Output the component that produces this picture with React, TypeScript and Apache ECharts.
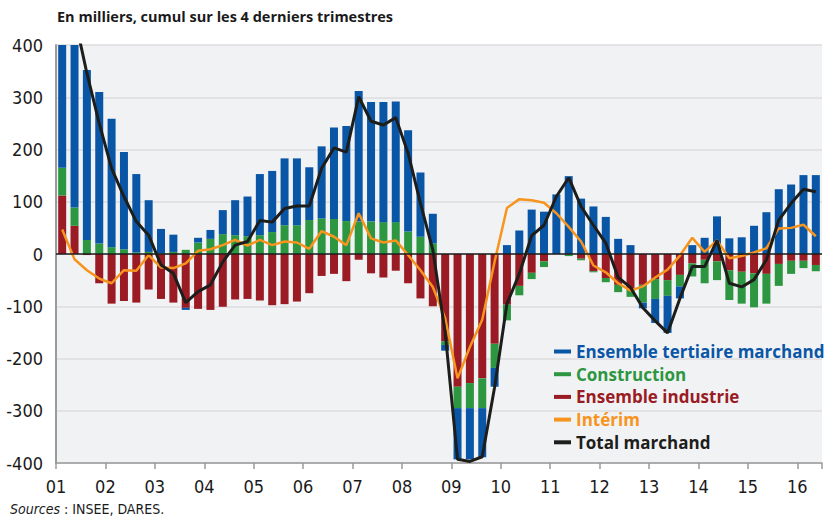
import React, { useEffect, useRef } from "react";
import * as echarts from "echarts";

// Quarters 2001T1 .. 2016T2
const firstYear = 2001;
const quarters: string[] = [];
for (let y = 2001; y <= 2016; y++) {
  for (let q = 1; q <= 4; q++) {
    if (quarters.length < 62) quarters.push(`${y}T${q}`);
  }
}

const yearLabels = ["01", "02", "03", "04", "05", "06", "07", "08", "09", "10", "11", "12", "13", "14", "15", "16"];

const tertiaire = [
  320, 365, 325, 290, 246, 186, 150, 99, 47, 33,
  -4, 9, 17, 46, 67, 76, 117, 117, 128, 128,
  101, 138, 175, 182, 250, 229, 230, 231, 194, 123,
  57, -11, -98, -98, -94, -36, 17, 45, 85, 81,
  114, 149, 106, 91, 71, 29, 17, -11, -46, -71,
  -23, 17, 31, 72, 30, 32, 54, 80, 124, 133,
  151, 151,
];
const construction = [
  53, 35, 27, 20, 13, 9, 3, 4, 1, 4,
  8, 22, 29, 38, 36, 34, 36, 42, 55, 55,
  65, 68, 67, 63, 62, 62, 61, 61, 43, 33,
  20, -7, -41, -48, -57, -46, -30, -18, -12, -11,
  0, -3, -3, -2, -8, -14, -14, -34, -38, -30,
  -22, -25, -45, -36, -57, -61, -65, -57, -42, -25,
  -14, -12,
];
const industrie = [
  112, 54, -2, -56, -95, -90, -93, -68, -86, -93,
  -103, -105, -107, -101, -87, -86, -89, -98, -96, -91,
  -75, -42, -38, -52, -11, -37, -45, -32, -56, -85,
  -100, -167, -254, -247, -238, -172, -97, -61, -36, -14,
  0, -1, -9, -33, -46, -59, -68, -59, -48, -50,
  -40, -18, -11, -14, -31, -34, -37, -38, -19, -13,
  -13, -21,
];
const interim = [
  47, -10, -31, -47, -56, -31, -32, -2, -26, -27,
  -18, 6, 9, 17, 27, 16, 27, 17, 24, 22,
  10, 44, 33, 17, 78, 30, 22, 26, -2, -31,
  -63, -123, -238, -178, -126, -15, 88, 105, 103, 98,
  78, 52, 24, -22, -35, -56, -70, -62, -45, -30,
  -3, 31, 4, 26, -8, -4, 3, 11, 49, 50,
  56, 34,
];
const total = [
  490, 455, 346, 250, 164, 110, 62, 36, -21, -37,
  -93, -72, -59, -15, 17, 24, 64, 61, 87, 92,
  92, 164, 203, 195, 301, 254, 247, 261, 193, 97,
  8, -150, -393, -397, -388, -255, -95, -38, 35, 55,
  110, 146, 91, 55, 21, -45, -64, -103, -128, -151,
  -85, -24, -24, 26, -56, -63, -49, -11, 65, 97,
  124, 119,
];

const C_BLUE = "#0a56a6";
const C_GREEN = "#2c9640";
const C_RED = "#9a1b24";
const C_ORANGE = "#f7941d";
const C_BLACK = "#1d1d1b";

const NAMES = {
  ter: "Ensemble tertiaire marchand",
  con: "Construction",
  ind: "Ensemble industrie",
  int: "Intérim",
  tot: "Total marchand",
};

const AXIS_FONT = "'Liberation Sans Narrow', 'DejaVu Sans Condensed', 'Roboto Condensed', 'Liberation Sans', sans-serif";
const BOLD_FONT = "'Open Sans', Lato, sans-serif";

export default function App() {
  const ref = useRef<HTMLDivElement>(null);
  useEffect(() => {
    if (!ref.current) return;
    const chart = echarts.init(ref.current, undefined, { renderer: "svg" });
    const barCommon = {
      type: "bar",
      stack: "emploi",
      barWidth: 8,
      xAxisIndex: 0,
    };
    chart.setOption({
      animation: false,
      backgroundColor: "#ffffff",
      title: {
        text: "En milliers, cumul sur les 4 derniers trimestres",
        left: 57,
        top: 9,
        padding: 0,
        textStyle: { fontFamily: BOLD_FONT, fontSize: 14.5, fontWeight: "bold", color: "#1a1a1a" },
      },
      grid: {
        left: 56,
        right: 0,
        top: 45,
        bottom: 56,
        show: true,
        backgroundColor: "#f1f2f4",
        borderWidth: 0,
      },
      legend: {
        orient: "vertical",
        left: 554,
        top: 343,
        icon: "rect",
        itemWidth: 17,
        itemHeight: 4,
        itemGap: 5.7,
        padding: 0,
        textStyle: { fontFamily: BOLD_FONT, fontSize: 17, fontWeight: "bold" },
        data: [
          { name: NAMES.ter, textStyle: { color: C_BLUE } },
          { name: NAMES.con, textStyle: { color: C_GREEN } },
          { name: NAMES.ind, textStyle: { color: C_RED } },
          { name: NAMES.int, textStyle: { color: C_ORANGE } },
          { name: NAMES.tot, textStyle: { color: C_BLACK } },
        ],
      },
      xAxis: [
        {
          type: "category",
          data: quarters,
          boundaryGap: true,
          position: "bottom",
          axisLine: { show: false },
          axisTick: { show: false },
          axisLabel: { show: false },
          splitLine: { show: false },
        },
        {
          type: "value",
          min: firstYear,
          max: firstYear + quarters.length / 4,
          interval: 1,
          position: "bottom",
          splitLine: { show: false },
          axisLine: { show: true, onZero: false, lineStyle: { color: "#9a9a9a", width: 1.5 } },
          axisTick: { show: true, length: 6, lineStyle: { color: "#9a9a9a", width: 1.5 } },
          axisLabel: {
            margin: 14,
            fontFamily: AXIS_FONT,
            fontSize: 18,
            color: "#1a1a1a",
            formatter: (v: number) => {
              if (Math.abs(v - Math.round(v)) > 1e-6) return "";
              const idx = Math.round(v) - firstYear;
              return yearLabels[idx] ?? "";
            },
          },
        },
      ],
      yAxis: {
        type: "value",
        min: -400,
        max: 400,
        interval: 100,
        axisLine: { show: true, lineStyle: { color: "#9a9a9a", width: 2 } },
        axisTick: { show: false },
        splitLine: { show: true, lineStyle: { color: "#dcdde0", width: 1.5 } },
        axisLabel: {
          margin: 13,
          fontFamily: AXIS_FONT,
          fontSize: 18,
          color: "#1a1a1a",
        },
      },
      graphic: [
        {
          type: "text",
          left: 10,
          top: 502,
          style: {
            text: "{i|Sources} : INSEE, DARES.",
            font: `14px ${AXIS_FONT}`,
            fill: "#1a1a1a",
            rich: {
              i: { fontStyle: "italic", fontFamily: AXIS_FONT, fontSize: 14, fill: "#1a1a1a" },
            },
          },
        },
      ],
      series: [
        {
          ...barCommon,
          name: NAMES.ind,
          data: industrie,
          itemStyle: { color: C_RED },
        },
        {
          ...barCommon,
          name: NAMES.con,
          data: construction,
          itemStyle: { color: C_GREEN },
        },
        {
          ...barCommon,
          name: NAMES.ter,
          data: tertiaire,
          itemStyle: { color: C_BLUE },
        },
        {
          type: "line",
          name: NAMES.int,
          xAxisIndex: 0,
          data: interim,
          symbol: "none",
          color: C_ORANGE,
          lineStyle: { color: C_ORANGE, width: 2.5 },
          itemStyle: { color: C_ORANGE },
          markLine: {
            silent: true,
            symbol: "none",
            label: { show: false },
            lineStyle: { color: C_BLACK, width: 1.5, type: "solid" },
            data: [{ yAxis: 0 }],
          },
        },
        {
          type: "line",
          name: NAMES.tot,
          xAxisIndex: 0,
          data: total,
          symbol: "none",
          color: C_BLACK,
          lineStyle: { color: C_BLACK, width: 3 },
          itemStyle: { color: C_BLACK },
        },
      ],
    });
    return () => chart.dispose();
  }, []);
  return (
    <div
      ref={ref}
      style={{ position: "absolute", left: 0, top: 0, width: 825, height: 519 }}
    />
  );
}
